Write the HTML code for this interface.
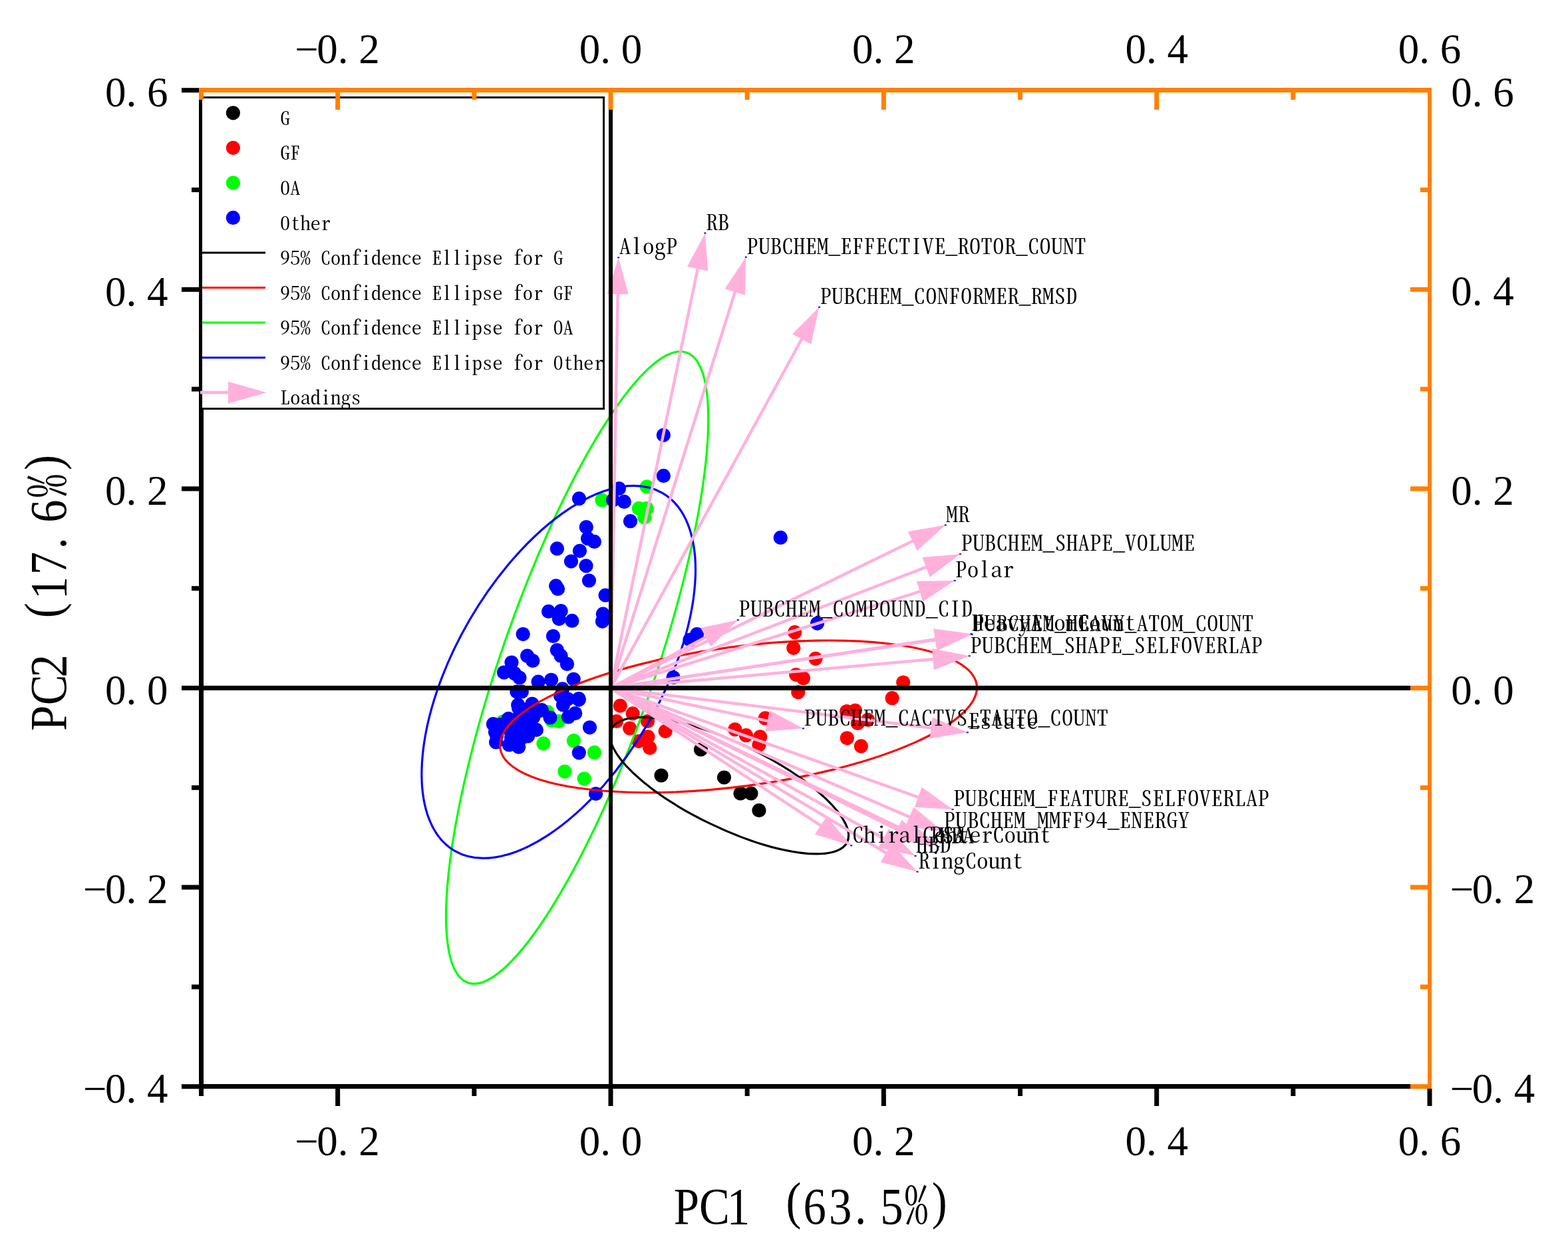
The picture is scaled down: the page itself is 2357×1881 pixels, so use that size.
<!DOCTYPE html>
<html><head><meta charset="utf-8"><title>PCA biplot</title>
<style>
html,body{margin:0;padding:0;background:#fff;width:2357px;height:1881px;overflow:hidden}
svg{display:block}
.lib{font-family:'Liberation Serif', serif}
.cjk{font-family:'Noto Serif CJK SC', 'Liberation Serif', serif;font-feature-settings:"hwid" 1,"liga" 0;font-variant-ligatures:none}
</style></head><body>
<svg width="2357" height="1881" viewBox="0 0 2357 1881">
<rect width="2357" height="1881" fill="#fff"/>
<g fill="#FF0000"><circle cx="932.3" cy="1061.2" r="10.6"/><circle cx="951.2" cy="1072.9" r="10.6"/><circle cx="926.7" cy="1084.5" r="10.6"/><circle cx="946.7" cy="1095.1" r="10.6"/><circle cx="973.5" cy="1084.5" r="10.6"/><circle cx="1000.2" cy="1099.6" r="10.6"/><circle cx="974" cy="1107.9" r="10.6"/><circle cx="960.1" cy="1114.6" r="10.6"/><circle cx="976.8" cy="1124.6" r="10.6"/><circle cx="1104.8" cy="1096.8" r="10.6"/><circle cx="1121.5" cy="1105.7" r="10.6"/><circle cx="1142.7" cy="1107.9" r="10.6"/><circle cx="1141" cy="1120" r="10.6"/><circle cx="1150.2" cy="1079.9" r="10.6"/><circle cx="1194.7" cy="950.7" r="10.6"/><circle cx="1192.8" cy="974.3" r="10.6"/><circle cx="1226" cy="990.3" r="10.6"/><circle cx="1196.7" cy="1014.6" r="10.6"/><circle cx="1207.5" cy="1019.7" r="10.6"/><circle cx="1357.7" cy="1026.1" r="10.6"/><circle cx="1199.8" cy="1040.8" r="10.6"/><circle cx="1341.1" cy="1049.7" r="10.6"/><circle cx="1272.7" cy="1069.5" r="10.6"/><circle cx="1285.5" cy="1068.3" r="10.6"/><circle cx="1289.3" cy="1087.4" r="10.6"/><circle cx="1304.7" cy="1082.3" r="10.6"/><circle cx="1273.3" cy="1109.8" r="10.6"/><circle cx="1294.4" cy="1121.9" r="10.6"/></g>
<g fill="#000000"><circle cx="1053.5" cy="1127" r="10.6"/><circle cx="994" cy="1166" r="10.6"/><circle cx="1088.5" cy="1169" r="10.6"/><circle cx="1113" cy="1193" r="10.6"/><circle cx="1129" cy="1193" r="10.6"/><circle cx="1141" cy="1218.5" r="10.6"/></g>
<g fill="#00FF00"><circle cx="972.3" cy="731.9" r="10.6"/><circle cx="904.9" cy="752" r="10.6"/><circle cx="960.3" cy="764.4" r="10.6"/><circle cx="972.3" cy="764.4" r="10.6"/><circle cx="968.7" cy="778" r="10.6"/><circle cx="823" cy="1070.6" r="10.6"/><circle cx="839.7" cy="1084.5" r="10.6"/><circle cx="829.4" cy="1083.4" r="10.6"/><circle cx="756" cy="1085" r="10.6"/><circle cx="816.9" cy="1117.9" r="10.6"/><circle cx="862.4" cy="1113.7" r="10.6"/><circle cx="893.5" cy="1131.4" r="10.6"/><circle cx="848.9" cy="1160.1" r="10.6"/><circle cx="878.2" cy="1170.8" r="10.6"/></g>
<ellipse cx="867.63" cy="1003.84" rx="115.48" ry="501.45" transform="rotate(-160.89 867.63 1003.84)" fill="none" stroke="#00FF00" stroke-width="3.2"/>
<g fill="#0000FF"><circle cx="997.4" cy="654.3" r="10.6"/><circle cx="997.4" cy="715.4" r="10.6"/><circle cx="930.5" cy="734.6" r="10.6"/><circle cx="870.5" cy="749.7" r="10.6"/><circle cx="921.5" cy="752" r="10.6"/><circle cx="938.3" cy="754.4" r="10.6"/><circle cx="947.5" cy="783.7" r="10.6"/><circle cx="881.3" cy="792.6" r="10.6"/><circle cx="883.6" cy="809.7" r="10.6"/><circle cx="893.4" cy="814.4" r="10.6"/><circle cx="837.4" cy="824.9" r="10.6"/><circle cx="871.5" cy="828.3" r="10.6"/><circle cx="858.5" cy="844.1" r="10.6"/><circle cx="881" cy="850.8" r="10.6"/><circle cx="885.5" cy="873" r="10.6"/><circle cx="835.7" cy="880.9" r="10.6"/><circle cx="838.5" cy="885.5" r="10.6"/><circle cx="910.1" cy="895" r="10.6"/><circle cx="824.6" cy="919.4" r="10.6"/><circle cx="843.2" cy="918.5" r="10.6"/><circle cx="840.4" cy="930.6" r="10.6"/><circle cx="859.9" cy="933.4" r="10.6"/><circle cx="906.4" cy="923.2" r="10.6"/><circle cx="905.5" cy="934.3" r="10.6"/><circle cx="786.2" cy="953.6" r="10.6"/><circle cx="831.5" cy="956.5" r="10.6"/><circle cx="769" cy="996" r="10.6"/><circle cx="792.6" cy="986.2" r="10.6"/><circle cx="800.8" cy="993.5" r="10.6"/><circle cx="837.4" cy="977.5" r="10.6"/><circle cx="843.2" cy="986.2" r="10.6"/><circle cx="852.5" cy="998.4" r="10.6"/><circle cx="757.5" cy="1011.1" r="10.6"/><circle cx="773.6" cy="1012.7" r="10.6"/><circle cx="781" cy="1019" r="10.6"/><circle cx="809.1" cy="1025.2" r="10.6"/><circle cx="828.6" cy="1022.3" r="10.6"/><circle cx="862.2" cy="1021.3" r="10.6"/><circle cx="845.6" cy="1035.9" r="10.6"/><circle cx="870" cy="1050.5" r="10.6"/><circle cx="842.7" cy="1046.6" r="10.6"/><circle cx="799.9" cy="1058.3" r="10.6"/><circle cx="776.9" cy="1040" r="10.6"/><circle cx="784.4" cy="1040" r="10.6"/><circle cx="778.7" cy="1059.9" r="10.6"/><circle cx="799.5" cy="1060.5" r="10.6"/><circle cx="814.3" cy="1067.7" r="10.6"/><circle cx="741.4" cy="1088.7" r="10.6"/><circle cx="764.2" cy="1080.7" r="10.6"/><circle cx="745.6" cy="1116" r="10.6"/><circle cx="744.5" cy="1100.7" r="10.6"/><circle cx="765.3" cy="1119.9" r="10.6"/><circle cx="779.7" cy="1123.2" r="10.6"/><circle cx="806.3" cy="1097.4" r="10.6"/><circle cx="793.5" cy="1106.8" r="10.6"/><circle cx="779.7" cy="1078.6" r="10.6"/><circle cx="790.7" cy="1084.2" r="10.6"/><circle cx="801.7" cy="1078.6" r="10.6"/><circle cx="796.2" cy="1095.2" r="10.6"/><circle cx="779.7" cy="1095.2" r="10.6"/><circle cx="763.1" cy="1095.2" r="10.6"/><circle cx="752.1" cy="1089.7" r="10.6"/><circle cx="768.6" cy="1109" r="10.6"/><circle cx="785.2" cy="1109" r="10.6"/><circle cx="746.6" cy="1106.2" r="10.6"/><circle cx="790.7" cy="1067.6" r="10.6"/><circle cx="779.7" cy="1064.8" r="10.6"/><circle cx="807.3" cy="1070.4" r="10.6"/><circle cx="870.3" cy="1052.1" r="10.6"/><circle cx="854.5" cy="1078" r="10.6"/><circle cx="864.7" cy="1072.5" r="10.6"/><circle cx="846.5" cy="1059.9" r="10.6"/><circle cx="853.6" cy="1051.1" r="10.6"/><circle cx="827" cy="1079" r="10.6"/><circle cx="886.5" cy="1093.8" r="10.6"/><circle cx="870.3" cy="1131.8" r="10.6"/><circle cx="895.6" cy="1193.5" r="10.6"/><circle cx="1173.3" cy="808.4" r="10.6"/><circle cx="1228.6" cy="937.3" r="10.6"/><circle cx="1047.6" cy="953.7" r="10.6"/><circle cx="1037" cy="962" r="10.6"/><circle cx="1012.1" cy="1018.6" r="10.6"/></g>
<ellipse cx="839.68" cy="1010.36" rx="154.97" ry="311.09" transform="rotate(-149.86 839.68 1010.36)" fill="none" stroke="#0000FF" stroke-width="3.2"/>
<ellipse cx="1109.96" cy="1077.36" rx="104.96" ry="361.38" transform="rotate(82.45 1109.96 1077.36)" fill="none" stroke="#FF0000" stroke-width="3.2"/>
<ellipse cx="1096.25" cy="1181.23" rx="63.95" ry="196.52" transform="rotate(115.63 1096.25 1181.23)" fill="none" stroke="#000000" stroke-width="3.2"/>
<g stroke="#FFB1DC" stroke-width="4.5" stroke-linecap="butt"><line x1="918" y1="1034.5" x2="928.74" y2="440.19"/><line x1="918" y1="1034.5" x2="1049.13" y2="402.4"/><line x1="918" y1="1034.5" x2="1105.43" y2="437.17"/><line x1="918" y1="1034.5" x2="1206.05" y2="508.29"/><line x1="918" y1="1034.5" x2="1373.55" y2="812.7"/><line x1="918" y1="1034.5" x2="1393.91" y2="852.16"/><line x1="918" y1="1034.5" x2="1384.51" y2="888.8"/><line x1="918" y1="1034.5" x2="1062.56" y2="957.19"/><line x1="918" y1="1034.5" x2="1408.57" y2="961.77"/><line x1="918" y1="1034.5" x2="1407.59" y2="960.88"/><line x1="918" y1="1034.5" x2="1404.41" y2="991.02"/><line x1="918" y1="1034.5" x2="1155.63" y2="1084.41"/><line x1="918" y1="1034.5" x2="1401.71" y2="1094.66"/><line x1="918" y1="1034.5" x2="1382.05" y2="1199.27"/><line x1="918" y1="1034.5" x2="1368.84" y2="1229.1"/><line x1="918" y1="1034.5" x2="1235.36" y2="1242.27"/><line x1="918" y1="1034.5" x2="1350.28" y2="1248.03"/><line x1="918" y1="1034.5" x2="1362.9" y2="1249.9"/><line x1="918" y1="1034.5" x2="1329.68" y2="1261.42"/><line x1="918" y1="1034.5" x2="1333.54" y2="1283.46"/></g>
<g fill="#FFB1DC"><polygon points="929.7,387.2 944.7,442.48 912.71,441.9"/><polygon points="1059.9,350.5 1064.39,407.6 1033.06,401.1"/><polygon points="1121.3,386.6 1120.1,443.87 1089.57,434.29"/><polygon points="1231.5,461.8 1219.13,517.73 1191.06,502.36"/><polygon points="1421.2,789.5 1378.75,827.96 1364.75,799.19"/><polygon points="1443.4,833.2 1397.77,867.82 1386.32,837.94"/><polygon points="1435.1,873 1387.37,904.67 1377.83,874.12"/><polygon points="1109.3,932.2 1068.34,972.25 1053.25,944.03"/><polygon points="1461,954 1408.94,977.89 1404.25,946.24"/><polygon points="1460,953 1407.99,977 1403.23,945.36"/><polygon points="1457.2,986.3 1403.84,1007.13 1400.99,975.26"/><polygon points="1207.5,1095.3 1150.39,1099.65 1156.96,1068.34"/><polygon points="1454.3,1101.2 1397.75,1110.29 1401.7,1078.53"/><polygon points="1432,1217 1374.82,1213.68 1385.52,1183.52"/><polygon points="1417.5,1250.1 1360.66,1242.99 1373.34,1213.61"/><polygon points="1279.7,1271.3 1224.92,1254.56 1242.45,1227.79"/><polygon points="1397.8,1271.5 1341.4,1261.49 1355.57,1232.8"/><polygon points="1410.6,1273 1354.12,1263.43 1368.07,1234.63"/><polygon points="1376.1,1287 1320.21,1274.46 1335.66,1246.44"/><polygon points="1379,1310.7 1323.6,1296.16 1340.04,1268.71"/></g>
<g fill="#0000FF"><rect x="928.2" y="386.2" width="3" height="2"/><rect x="1058.4" y="349.5" width="3" height="2"/><rect x="1119.8" y="385.6" width="3" height="2"/><rect x="1230" y="460.8" width="3" height="2"/><rect x="1419.7" y="788.5" width="3" height="2"/><rect x="1441.9" y="832.2" width="3" height="2"/><rect x="1433.6" y="872" width="3" height="2"/><rect x="1107.8" y="931.2" width="3" height="2"/><rect x="1459.5" y="953" width="3" height="2"/><rect x="1458.5" y="952" width="3" height="2"/><rect x="1455.7" y="985.3" width="3" height="2"/><rect x="1206" y="1094.3" width="3" height="2"/><rect x="1452.8" y="1100.2" width="3" height="2"/><rect x="1430.5" y="1216" width="3" height="2"/><rect x="1416" y="1249.1" width="3" height="2"/><rect x="1278.2" y="1270.3" width="3" height="2"/><rect x="1396.3" y="1270.5" width="3" height="2"/><rect x="1409.1" y="1272" width="3" height="2"/><rect x="1374.6" y="1286" width="3" height="2"/><rect x="1377.5" y="1309.7" width="3" height="2"/></g>
<line x1="918" y1="139" x2="918" y2="1630" stroke="#000" stroke-width="6"/>
<line x1="306" y1="1034.5" x2="2146" y2="1034.5" stroke="#000" stroke-width="7"/>
<g fill="#000"><text class="cjk" x="0 17.6 35.2 52.8 70.4" transform="translate(930.7 382.4) scale(1 0.91)" font-size="35.2">AlogP</text><text class="cjk" x="0 17.6" transform="translate(1060.9 345.7) scale(1 0.91)" font-size="35.2">RB</text><text class="cjk" x="0 17.6 35.2 52.8 70.4 88 105.6 123.2 140.8 158.4 176 193.6 211.2 228.8 246.4 264 281.6 299.2 316.8 334.4 352 369.6 387.2 404.8 422.4 440 457.6 475.2 492.8" transform="translate(1122.3 381.8) scale(1 0.91)" font-size="35.2">PUBCHEM_EFFECTIVE_ROTOR_COUNT</text><text class="cjk" x="0 17.6 35.2 52.8 70.4 88 105.6 123.2 140.8 158.4 176 193.6 211.2 228.8 246.4 264 281.6 299.2 316.8 334.4 352 369.6" transform="translate(1232.5 457) scale(1 0.91)" font-size="35.2">PUBCHEM_CONFORMER_RMSD</text><text class="cjk" x="0 17.6" transform="translate(1422.2 784.7) scale(1 0.91)" font-size="35.2">MR</text><text class="cjk" x="0 17.6 35.2 52.8 70.4 88 105.6 123.2 140.8 158.4 176 193.6 211.2 228.8 246.4 264 281.6 299.2 316.8 334.4" transform="translate(1444.4 828.4) scale(1 0.91)" font-size="35.2">PUBCHEM_SHAPE_VOLUME</text><text class="cjk" x="0 17.6 35.2 52.8 70.4" transform="translate(1436.1 868.2) scale(1 0.91)" font-size="35.2">Polar</text><text class="cjk" x="0 17.6 35.2 52.8 70.4 88 105.6 123.2 140.8 158.4 176 193.6 211.2 228.8 246.4 264 281.6 299.2 316.8 334.4" transform="translate(1110.3 927.4) scale(1 0.91)" font-size="35.2">PUBCHEM_COMPOUND_CID</text><text class="cjk" x="0 17.6 35.2 52.8 70.4 88 105.6 123.2 140.8 158.4 176 193.6 211.2 228.8 246.4 264 281.6 299.2 316.8 334.4 352 369.6 387.2 404.8" transform="translate(1462 949.2) scale(1 0.91)" font-size="35.2">PUBCHEM_HEAVY_ATOM_COUNT</text><text class="cjk" x="0 17.6 35.2 52.8 70.4 88 105.6 123.2 140.8 158.4 176 193.6 211.2 228.8" transform="translate(1461 948.2) scale(1 0.91)" font-size="35.2">HeavyAtomCount</text><text class="cjk" x="0 17.6 35.2 52.8 70.4 88 105.6 123.2 140.8 158.4 176 193.6 211.2 228.8 246.4 264 281.6 299.2 316.8 334.4 352 369.6 387.2 404.8 422.4" transform="translate(1458.2 981.5) scale(1 0.91)" font-size="35.2">PUBCHEM_SHAPE_SELFOVERLAP</text><text class="cjk" x="0 17.6 35.2 52.8 70.4 88 105.6 123.2 140.8 158.4 176 193.6 211.2 228.8 246.4 264 281.6 299.2 316.8 334.4 352 369.6 387.2 404.8 422.4 440" transform="translate(1208.5 1090.5) scale(1 0.91)" font-size="35.2">PUBCHEM_CACTVS_TAUTO_COUNT</text><text class="cjk" x="0 17.6 35.2 52.8 70.4 88" transform="translate(1455.3 1096.4) scale(1 0.91)" font-size="35.2">Estate</text><text class="cjk" x="0 17.6 35.2 52.8 70.4 88 105.6 123.2 140.8 158.4 176 193.6 211.2 228.8 246.4 264 281.6 299.2 316.8 334.4 352 369.6 387.2 404.8 422.4 440 457.6" transform="translate(1433 1212.2) scale(1 0.91)" font-size="35.2">PUBCHEM_FEATURE_SELFOVERLAP</text><text class="cjk" x="0 17.6 35.2 52.8 70.4 88 105.6 123.2 140.8 158.4 176 193.6 211.2 228.8 246.4 264 281.6 299.2 316.8 334.4 352" transform="translate(1418.5 1245.3) scale(1 0.91)" font-size="35.2">PUBCHEM_MMFF94_ENERGY</text><text class="cjk" x="0 17.6 35.2 52.8 70.4 88 105.6 123.2 140.8 158.4 176 193.6 211.2 228.8 246.4 264 281.6" transform="translate(1280.7 1266.5) scale(1 0.91)" font-size="35.2">ChiralCenterCount</text><text class="cjk" x="0 17.6 35.2" transform="translate(1398.8 1266.7) scale(1 0.91)" font-size="35.2">PSA</text><text class="cjk" x="0 17.6 35.2" transform="translate(1411.6 1268.2) scale(1 0.91)" font-size="35.2">HBA</text><text class="cjk" x="0 17.6 35.2" transform="translate(1377.1 1282.2) scale(1 0.91)" font-size="35.2">HBD</text><text class="cjk" x="0 17.6 35.2 52.8 70.4 88 105.6 123.2 140.8" transform="translate(1380 1305.9) scale(1 0.91)" font-size="35.2">RingCount</text></g>
<line x1="302.5" y1="132" x2="302.5" y2="1637" stroke="#000" stroke-width="7"/>
<line x1="299" y1="1633.5" x2="2120" y2="1633.5" stroke="#000" stroke-width="7"/>
<g stroke="#000" stroke-width="7"><line x1="273" y1="1633.7" x2="299" y2="1633.7"/><line x1="288" y1="1483.9" x2="299" y2="1483.9"/><line x1="273" y1="1334.1" x2="299" y2="1334.1"/><line x1="288" y1="1184.3" x2="299" y2="1184.3"/><line x1="273" y1="1034.5" x2="299" y2="1034.5"/><line x1="288" y1="884.7" x2="299" y2="884.7"/><line x1="273" y1="734.9" x2="299" y2="734.9"/><line x1="288" y1="585.1" x2="299" y2="585.1"/><line x1="273" y1="435.3" x2="299" y2="435.3"/><line x1="288" y1="285.5" x2="299" y2="285.5"/><line x1="273" y1="135.7" x2="299" y2="135.7"/><line x1="302.49" y1="1637" x2="302.49" y2="1648"/><line x1="507.66" y1="1637" x2="507.66" y2="1663"/><line x1="712.83" y1="1637" x2="712.83" y2="1648"/><line x1="918" y1="1637" x2="918" y2="1663"/><line x1="1123.17" y1="1637" x2="1123.17" y2="1648"/><line x1="1328.34" y1="1637" x2="1328.34" y2="1663"/><line x1="1533.51" y1="1637" x2="1533.51" y2="1648"/><line x1="1738.68" y1="1637" x2="1738.68" y2="1663"/><line x1="1943.85" y1="1637" x2="1943.85" y2="1648"/><line x1="2149.02" y1="1637" x2="2149.02" y2="1663"/></g>
<rect x="302.5" y="146.5" width="605" height="468" fill="#fff" stroke="#000" stroke-width="3"/>
<g>
<circle cx="350.4" cy="169.8" r="10.6" fill="#000000"/>
<circle cx="350.4" cy="222.35" r="10.6" fill="#FF0000"/>
<circle cx="350.4" cy="274.9" r="10.6" fill="#00FF00"/>
<circle cx="350.4" cy="327.45" r="10.6" fill="#0000FF"/>
<line x1="304" y1="380" x2="399" y2="380" stroke="#000000" stroke-width="3"/>
<line x1="304" y1="432.55" x2="399" y2="432.55" stroke="#FF0000" stroke-width="3"/>
<line x1="304" y1="485.1" x2="399" y2="485.1" stroke="#00FF00" stroke-width="3"/>
<line x1="304" y1="537.65" x2="399" y2="537.65" stroke="#0000FF" stroke-width="3"/>
<line x1="301" y1="590.2" x2="345" y2="590.2" stroke="#FFB1DC" stroke-width="4.7"/>
<polygon points="343,573.7 400.7,590.2 343,606.7" fill="#FFB1DC"/>
<text class="cjk" x="0" transform="translate(421 187.9) scale(1 0.93)" font-size="30.4">G</text>
<text class="cjk" x="0 15.2" transform="translate(421 240.45) scale(1 0.93)" font-size="30.4">GF</text>
<text class="cjk" x="0 15.2" transform="translate(421 293) scale(1 0.93)" font-size="30.4">OA</text>
<text class="cjk" x="0 15.2 30.4 45.6 60.8" transform="translate(421 345.55) scale(1 0.93)" font-size="30.4">Other</text>
<text class="cjk" x="0 15.2 30.4 45.6 60.8 76 91.2 106.4 121.6 136.8 152 167.2 182.4 197.6 212.8 228 243.2 258.4 273.6 288.8 304 319.2 334.4 349.6 364.8 380 395.2 410.4" transform="translate(421 398.1) scale(1 0.93)" font-size="30.4">95% Confidence Ellipse for G</text>
<text class="cjk" x="0 15.2 30.4 45.6 60.8 76 91.2 106.4 121.6 136.8 152 167.2 182.4 197.6 212.8 228 243.2 258.4 273.6 288.8 304 319.2 334.4 349.6 364.8 380 395.2 410.4 425.6" transform="translate(421 450.65) scale(1 0.93)" font-size="30.4">95% Confidence Ellipse for GF</text>
<text class="cjk" x="0 15.2 30.4 45.6 60.8 76 91.2 106.4 121.6 136.8 152 167.2 182.4 197.6 212.8 228 243.2 258.4 273.6 288.8 304 319.2 334.4 349.6 364.8 380 395.2 410.4 425.6" transform="translate(421 503.2) scale(1 0.93)" font-size="30.4">95% Confidence Ellipse for OA</text>
<text class="cjk" x="0 15.2 30.4 45.6 60.8 76 91.2 106.4 121.6 136.8 152 167.2 182.4 197.6 212.8 228 243.2 258.4 273.6 288.8 304 319.2 334.4 349.6 364.8 380 395.2 410.4 425.6 440.8 456 471.2" transform="translate(421 555.75) scale(1 0.93)" font-size="30.4">95% Confidence Ellipse for Other</text>
<text class="cjk" x="0 15.2 30.4 45.6 60.8 76 91.2 106.4" transform="translate(421 608.3) scale(1 0.93)" font-size="30.4">Loadings</text>
</g>
<line x1="299" y1="135.5" x2="2152" y2="135.5" stroke="#FF8000" stroke-width="7"/>
<line x1="2149" y1="132" x2="2149" y2="1637" stroke="#FF8000" stroke-width="6"/>
<g stroke="#FF8000" stroke-width="7"><line x1="302.49" y1="139" x2="302.49" y2="150"/><line x1="507.66" y1="139" x2="507.66" y2="165"/><line x1="712.83" y1="139" x2="712.83" y2="150"/><line x1="918" y1="139" x2="918" y2="165"/><line x1="1123.17" y1="139" x2="1123.17" y2="150"/><line x1="1328.34" y1="139" x2="1328.34" y2="165"/><line x1="1533.51" y1="139" x2="1533.51" y2="150"/><line x1="1738.68" y1="139" x2="1738.68" y2="165"/><line x1="1943.85" y1="139" x2="1943.85" y2="150"/><line x1="2146" y1="1633.7" x2="2120" y2="1633.7"/><line x1="2146" y1="1483.9" x2="2135" y2="1483.9"/><line x1="2146" y1="1334.1" x2="2120" y2="1334.1"/><line x1="2146" y1="1184.3" x2="2135" y2="1184.3"/><line x1="2146" y1="1034.5" x2="2120" y2="1034.5"/><line x1="2146" y1="884.7" x2="2135" y2="884.7"/><line x1="2146" y1="734.9" x2="2120" y2="734.9"/><line x1="2146" y1="585.1" x2="2135" y2="585.1"/><line x1="2146" y1="435.3" x2="2120" y2="435.3"/><line x1="2146" y1="285.5" x2="2135" y2="285.5"/><line x1="2146" y1="135.7" x2="2120" y2="135.7"/></g>
<g fill="#000"><text class="lib" x="125 158 189.5 221" y="1657.9" font-size="63">−0.4</text><text class="lib" x="2179.8 2212.8 2244.3 2275.8" y="1657.7" font-size="63">−0.4</text><text class="lib" x="125 158 189.5 221" y="1358.3" font-size="63">−0.2</text><text class="lib" x="2179.8 2212.8 2244.3 2275.8" y="1358.1" font-size="63">−0.2</text><text class="lib" x="158 189.5 221" y="1058.7" font-size="63">0.0</text><text class="lib" x="2181.3 2212.8 2244.3" y="1058.5" font-size="63">0.0</text><text class="lib" x="158 189.5 221" y="759.1" font-size="63">0.2</text><text class="lib" x="2181.3 2212.8 2244.3" y="758.9" font-size="63">0.2</text><text class="lib" x="158 189.5 221" y="459.5" font-size="63">0.4</text><text class="lib" x="2181.3 2212.8 2244.3" y="459.3" font-size="63">0.4</text><text class="lib" x="158 189.5 221" y="159.9" font-size="63">0.6</text><text class="lib" x="2181.3 2212.8 2244.3" y="159.7" font-size="63">0.6</text><text class="lib" x="443.16 476.16 507.66 539.16" y="95.4" font-size="63">−0.2</text><text class="lib" x="443.16 476.16 507.66 539.16" y="1737.4" font-size="63">−0.2</text><text class="lib" x="870.75 902.25 933.75" y="95.4" font-size="63">0.0</text><text class="lib" x="870.75 902.25 933.75" y="1737.4" font-size="63">0.0</text><text class="lib" x="1281.09 1312.59 1344.09" y="95.4" font-size="63">0.2</text><text class="lib" x="1281.09 1312.59 1344.09" y="1737.4" font-size="63">0.2</text><text class="lib" x="1691.43 1722.93 1754.43" y="95.4" font-size="63">0.4</text><text class="lib" x="1691.43 1722.93 1754.43" y="1737.4" font-size="63">0.4</text><text class="lib" x="2101.77 2133.27 2164.77" y="95.4" font-size="63">0.6</text><text class="lib" x="2101.77 2133.27 2164.77" y="1737.4" font-size="63">0.6</text></g>
<g fill="#000" transform="translate(1014.8 1840)"><text class="lib" transform="scale(0.87 1)" font-size="79" x="-2.28 41.59 89.61 149.43 191.7 221.43 265.87 310.54 354.61 397.16 443.66" y="0 0 0 0 -8.3 0 0 0 0 0 -8.3">PC1 (63.5<tspan class="cjk">%</tspan>)</text></g>
<g fill="#000" transform="translate(99.1 1097) rotate(-90)"><text class="lib" transform="scale(0.87 1)" font-size="79" x="-2.28 42.39 90.21 149.43 192.85 225.01 267.55 312.04 357.64 401.53 448.38" y="0 0 0 0 -8.3 0 0 0 0 0 -8.3">PC2 (17.6<tspan class="cjk">%</tspan>)</text></g>
</svg>
</body></html>
